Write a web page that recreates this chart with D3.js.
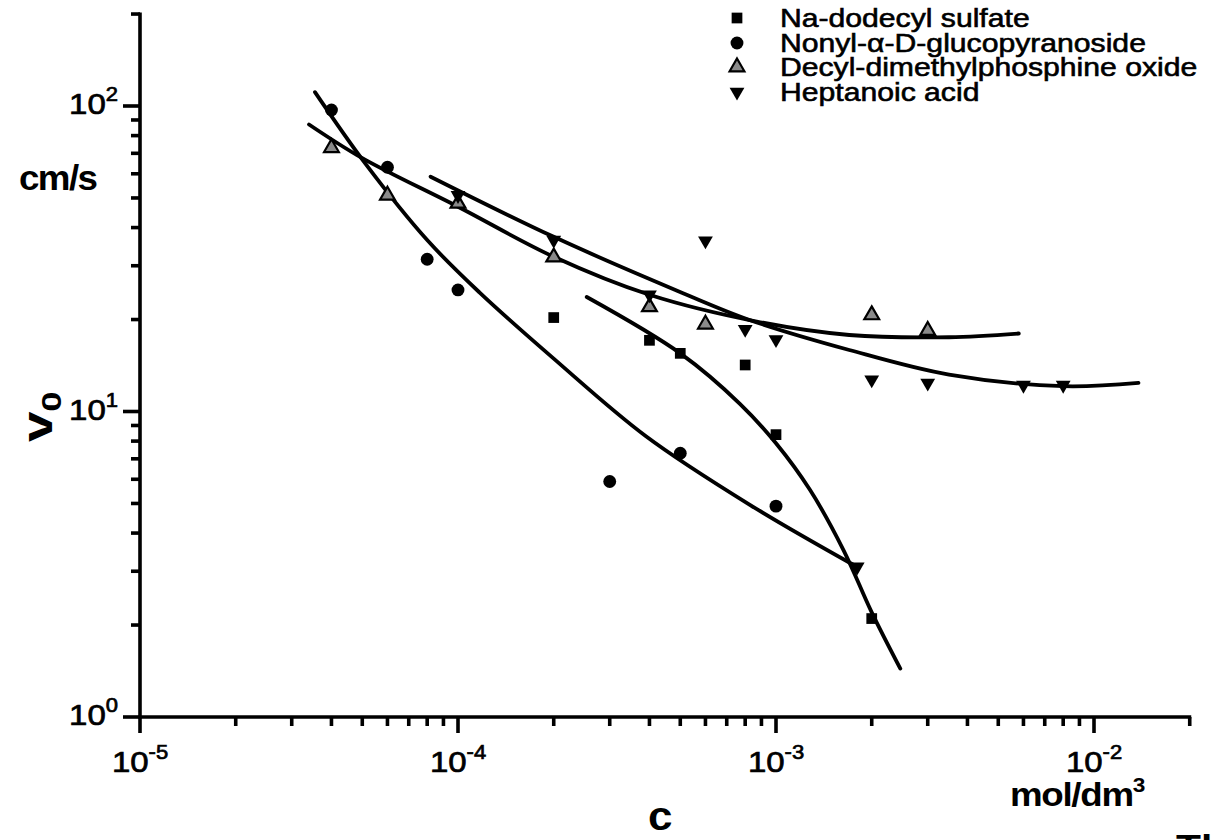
<!DOCTYPE html>
<html>
<head>
<meta charset="utf-8">
<script src="https://cdn.jsdelivr.net/npm/d3@7"></script>
<style>
  html, body { margin: 0; padding: 0; background: #fff; }
  svg { display: block; font-family: Arial, "Liberation Sans", sans-serif; }
</style>
</head>
<body>
<div id="chart"></div>
<script>
///
/// Data
///
const sdsC = [2e-4, 4e-4, 5e-4, 8e-4, 1e-3, 2e-3];
const sdsV = [20.3, 17.1, 15.5, 14.2, 8.4, 2.1];

const nonylC = [4e-5, 6e-5, 8e-5, 1e-4, 3e-4, 5e-4, 1e-3];
const nonylV = [97, 63, 31.5, 25, 5.9, 7.3, 4.9];

const decylC = [4e-5, 6e-5, 1e-4, 2e-4, 4e-4, 6e-4, 2e-3, 3e-3];
const decylV = [73, 51, 48, 32, 22, 19.3, 20.7, 18.4];

const heptC = [1e-4, 2e-4, 4e-4, 6e-4, 8e-4, 1e-3, 1.8e-3, 2e-3, 3e-3, 6e-3, 8e-3];
const heptV = [51, 36.4, 24.1, 36.2, 18.6, 17.2, 3.1, 12.7, 12.4, 12.2, 12.2];

// fitted curves
const sdsFitC = [2.54e-4, 5e-4, 7.7e-4, 1e-3, 1.28e-3, 1.63e-3, 2e-3, 2.46e-3];
const sdsFitV = [23.7, 15.5, 10.6, 7.87, 5.53, 3.52, 2.2, 1.44];

const nonylFitC = [3.55e-5, 5.1e-5, 8e-5, 1.17e-4, 2e-4, 3.9e-4, 8.3e-4, 1.75e-3];
const nonylFitV = [111, 65, 36.4, 24.5, 14.9, 8.3, 4.94, 3.15];

const decylFitC = [3.4e-5, 5e-5, 1e-4, 2e-4, 4e-4, 8.7e-4, 1.7e-3, 3.5e-3, 5.8e-3];
const decylFitV = [87, 67.5, 46.8, 32.1, 24.1, 19.7, 17.8, 17.5, 18];

const heptFitC = [8.2e-5, 2e-4, 5.1e-4, 8.3e-4, 1.7e-3, 3.5e-3, 8e-3, 1.38e-2];
const heptFitV = [58.7, 37.3, 24.4, 19.9, 15.9, 13.2, 12.1, 12.4];

const seriesNames = ["Na-dodecyl sulfate", "Nonyl-\u03B1-D-glucopyranoside",
                     "Decyl-dimethylphosphine oxide", "Heptanoic acid"];

const xMajor = [1e-5, 1e-4, 1e-3, 1e-2];
const xMajorExp = ["-5", "-4", "-3", "-2"];
const yMajor = [1, 10, 100];
const yMajorExp = ["0", "1", "2"];

///
/// Helpers
///
const zip = (cs, vs) => cs.map((c, i) => ({c: c, v: vs[i]}));

const minorTicks = (lo, hi) => {
  var out = [];
  for (var e = Math.floor(Math.log10(lo)); e <= Math.ceil(Math.log10(hi)); e++) {
    for (var m = 1; m <= 9; m++) {
      var t = +(m * Math.pow(10, e)).toPrecision(3);
      if (t >= lo * 0.999 && t <= hi * 1.001) out.push(t);
    }
  }
  return out;
};
const isMajor = (t) => Math.abs(Math.log10(t) - Math.round(Math.log10(t))) < 1e-6;

///
/// Setup
///
const width = 1211, height = 840;
const svg = d3.select("#chart").append("svg")
  .attr("width", width).attr("height", height);

const x = d3.scaleLog().domain([1e-5, 2e-2])
  .range([140, 140 + 318 * Math.log10(2000)]);
const y = d3.scaleLog().domain([1, 200])
  .range([717, 717 - 305.5 * Math.log10(200)]);

///
/// Axes (drawn by hand from the scales so that line widths stick)
///
const axisG = svg.append("g")
  .attr("stroke", "#000")
  .attr("stroke-width", 3.6);

axisG.append("line")
  .attr("x1", x.range()[0] - 1.5).attr("x2", x.range()[1] + 1.5)
  .attr("y1", y(1)).attr("y2", y(1));
axisG.append("line")
  .attr("x1", x(1e-5)).attr("x2", x(1e-5))
  .attr("y1", y.range()[0] + 1.5).attr("y2", y.range()[1] - 1.5);

axisG.append("g").selectAll("line")
  .data(minorTicks(1e-5, 2e-2))
  .join("line")
  .attr("x1", d => x(d)).attr("x2", d => x(d))
  .attr("y1", y(1)).attr("y2", d => y(1) + (isMajor(d) ? 16 : 9));

axisG.append("g").selectAll("line")
  .data(minorTicks(1, 200))
  .join("line")
  .attr("y1", d => y(d)).attr("y2", d => y(d))
  .attr("x1", x(1e-5)).attr("x2", d => x(1e-5) - (isMajor(d) ? 17 : 9));

function powLabel(px, py, exp, anchor) {
  var t = svg.append("text")
    .attr("transform", "translate(" + px + "," + py + ") scale(1.1,1)")
    .attr("text-anchor", anchor)
    .attr("font-size", 30)
    .attr("fill", "#000")
    .attr("stroke", "#000")
    .attr("stroke-width", 0.7);
  t.append("tspan").text("10");
  t.append("tspan").attr("dy", -13).attr("font-size", 20).text(exp);
}

xMajor.forEach((t, i) => powLabel(x(t), 772, xMajorExp[i], "middle"));
yMajor.forEach((t, i) => powLabel(118, y(t) + 8, yMajorExp[i], "end"));

// axis titles
svg.append("text")
  .attr("transform", "translate(19,190) scale(1.05,1)")
  .attr("font-size", 35).attr("font-weight", "bold").attr("letter-spacing", -1.5)
  .text("cm/s");

var vt = svg.append("text")
  .attr("transform", "translate(52,442) rotate(-90) scale(1.3,1)")
  .attr("font-size", 42).attr("font-weight", "bold");
vt.append("tspan").text("v");
vt.append("tspan").attr("dy", 9).attr("font-size", 28).text("0");

svg.append("text")
  .attr("transform", "translate(648,830) scale(1.1,1)")
  .attr("font-size", 40).attr("font-weight", "bold")
  .text("c");

var mt = svg.append("text")
  .attr("transform", "translate(1010,806) scale(1.08,1)")
  .attr("font-size", 34).attr("font-weight", "bold").attr("letter-spacing", -1.2);
mt.append("tspan").text("mol/dm");
mt.append("tspan").attr("dy", -14).attr("font-size", 21).text("3");

// cut-off lettering at the bottom edge of the scan
svg.append("text")
  .attr("transform", "translate(1176,858) scale(1.2,1)")
  .attr("font-size", 34).attr("font-weight", "bold")
  .text("Th");

///
/// Fit curves
///
const line = d3.line()
  .x(d => x(d.c))
  .y(d => y(d.v))
  .curve(d3.curveCatmullRom.alpha(0.5));

[[sdsFitC, sdsFitV], [nonylFitC, nonylFitV], [decylFitC, decylFitV], [heptFitC, heptFitV]]
  .forEach(p => {
    svg.append("path")
      .datum(zip(p[0], p[1]))
      .attr("d", line)
      .attr("fill", "none")
      .attr("stroke", "#000")
      .attr("stroke-width", 3.8)
      .attr("stroke-linecap", "round");
  });

///
/// Markers
///
const sym = {
  square: d3.symbol().type(d3.symbolSquare).size(115),
  circle: d3.symbol().type(d3.symbolCircle).size(130),
  tri: d3.symbol().type(d3.symbolTriangle).size(95),
};

function drawSeries(data, kind, legendY) {
  var style = (sel) => {
    if (kind === "tri") {
      sel.attr("fill", "#8a8a8a").attr("stroke", "#000").attr("stroke-width", 2.2);
    } else {
      sel.attr("fill", "#000").attr("stroke", "none");
    }
  };
  var path = kind === "down" ? sym.tri() : sym[kind]();
  var rot = kind === "down" ? " rotate(180)" : "";
  svg.append("g").selectAll("path")
    .data(data)
    .join("path")
    .attr("d", path)
    .attr("transform", d => "translate(" + x(d.c) + "," + y(d.v) + ")" + rot)
    .call(style);
  // legend entry
  svg.append("path")
    .attr("d", path)
    .attr("transform", "translate(737," + legendY + ")" + rot)
    .call(style);
}

const legendYs = [18, 43, 67, 92];
drawSeries(zip(sdsC, sdsV), "square", legendYs[0]);
drawSeries(zip(nonylC, nonylV), "circle", legendYs[1]);
drawSeries(zip(decylC, decylV), "tri", legendYs[2]);
drawSeries(zip(heptC, heptV), "down", legendYs[3]);

seriesNames.forEach((name, i) => {
  svg.append("text")
    .attr("transform", "translate(780," + (legendYs[i] + 9) + ") scale(1.16,1)")
    .attr("font-size", 26)
    .attr("fill", "#000")
    .attr("stroke", "#000")
    .attr("stroke-width", 0.6)
    .text(name);
});
</script>
</body>
</html>
